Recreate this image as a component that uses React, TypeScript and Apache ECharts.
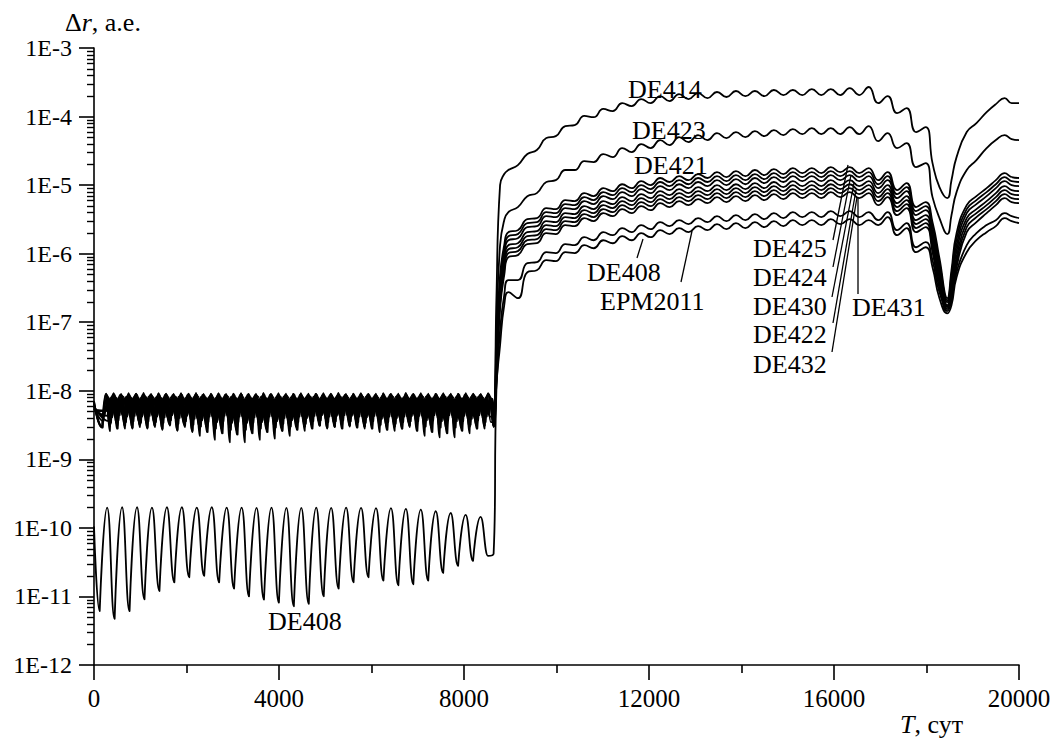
import React, { useEffect, useRef } from "react";
import * as echarts from "echarts";

// ---------- axis ticks ----------
const xTicks = [0, 4000, 8000, 12000, 16000, 20000];
const yMin = 1e-12;
const yMax = 1e-3;

// ---------- DE408, lower curve before the jump ----------
const de408LowStart = 1.05e-10;
const de408LowTroughT = [123, 446, 769, 1092, 1415, 1738, 2060, 2383, 2706, 3029,
  3352, 3675, 3998, 4321, 4644, 4967, 5290, 5612, 5935, 6258,
  6581, 6904, 7227, 7550, 7873, 8196, 8519];
const de408LowTroughV = [6.1e-12, 4.7e-12, 6.1e-12, 9.1e-12, 1.2e-11, 1.6e-11, 1.9e-11, 2.0e-11, 1.6e-11, 1.3e-11,
  1.0e-11, 9.0e-12, 8.1e-12, 7.2e-12, 7.8e-12, 1.0e-11, 1.3e-11, 1.6e-11, 1.9e-11, 1.7e-11,
  1.45e-11, 1.5e-11, 1.7e-11, 2.2e-11, 2.8e-11, 3.3e-11, 3.9e-11];
const de408LowPeakT = [284, 607, 930, 1253, 1576, 1899, 2222, 2545, 2868, 3191,
  3514, 3837, 4160, 4482, 4805, 5128, 5451, 5774, 6097, 6420,
  6743, 7066, 7389, 7712, 8035, 8358];
const de408LowPeakV = [1.98e-10, 2.0e-10, 2.0e-10, 1.98e-10, 2.0e-10, 2.0e-10, 1.98e-10, 2.0e-10, 1.98e-10, 1.98e-10,
  1.96e-10, 1.98e-10, 1.96e-10, 1.96e-10, 1.98e-10, 1.96e-10, 1.98e-10, 1.96e-10, 1.94e-10, 1.94e-10,
  1.9e-10, 1.85e-10, 1.75e-10, 1.65e-10, 1.55e-10, 1.45e-10];

// ---------- the 1E-8 band before the jump (values in units of 1e-9) ----------
const BAND_UNIT = 1e-9;
const bandTroughT = [181, 343, 505, 667, 829, 991, 1153, 1315, 1477, 1639,
  1801, 1963, 2125, 2287, 2449, 2611, 2773, 2935, 3097, 3259,
  3421, 3583, 3745, 3907, 4069, 4231, 4393, 4555, 4717, 4879,
  5041, 5203, 5365, 5527, 5689, 5851, 6013, 6175, 6337, 6499,
  6661, 6823, 6985, 7147, 7309, 7471, 7633, 7795, 7957, 8119,
  8281, 8443];
const bandPeakT = [262, 424, 586, 748, 910, 1072, 1234, 1396, 1558, 1720,
  1882, 2044, 2206, 2368, 2530, 2692, 2854, 3016, 3178, 3340,
  3502, 3664, 3826, 3988, 4150, 4312, 4474, 4636, 4798, 4960,
  5122, 5284, 5446, 5608, 5770, 5932, 6094, 6256, 6418, 6580,
  6742, 6904, 7066, 7228, 7390, 7552, 7714, 7876, 8038, 8200,
  8362, 8524];
const bandStartA = 6.5, bandStartB = 6.0, bandStartC = 5.5, bandStartD = 5.2, bandStartE = 7.0;
const bandTroughA = [2.96, 2.59, 3.1, 2.8, 2.8, 2.96, 2.8, 2.96, 2.7, 3.1,
  2.6, 2.96, 2.5, 2.2, 2.8, 1.93, 2.96, 1.77, 2.96, 1.77,
  2.8, 1.93, 2.8, 2.0, 2.6, 2.2, 2.8, 2.6, 2.96, 3.1,
  2.8, 2.96, 3.1, 3.0, 2.96, 2.8, 2.96, 2.5, 2.8, 2.6,
  2.8, 2.96, 2.96, 2.2, 3.1, 2.1, 3.1, 2.1, 2.96, 2.4,
  3.1, 2.8];
const bandTroughB = [3.6, 3.4, 3.7, 3.5, 3.6, 3.4, 3.6, 3.5, 3.4, 3.7,
  3.3, 3.6, 3.2, 3.0, 3.5, 2.8, 3.6, 2.7, 3.5, 2.7,
  3.4, 2.8, 3.5, 2.9, 3.3, 3.0, 3.5, 3.3, 3.6, 3.7,
  3.5, 3.6, 3.7, 3.6, 3.5, 3.4, 3.6, 3.2, 3.5, 3.3,
  3.5, 3.6, 3.6, 3.0, 3.7, 2.9, 3.7, 2.9, 3.6, 3.2,
  3.7, 3.5];
const bandTroughC = [4.3, 4.1, 4.4, 4.2, 4.3, 4.2, 4.3, 4.2, 4.1, 4.4,
  4.0, 4.3, 3.9, 3.7, 4.2, 3.5, 4.3, 3.4, 4.2, 3.4,
  4.1, 3.5, 4.2, 3.6, 4.0, 3.7, 4.2, 4.0, 4.3, 4.4,
  4.2, 4.3, 4.4, 4.3, 4.2, 4.1, 4.3, 3.9, 4.2, 4.0,
  4.2, 4.3, 4.3, 3.7, 4.4, 3.6, 4.4, 3.6, 4.3, 3.9,
  4.4, 4.2];
const bandTroughD = [5.1, 4.9, 5.2, 5.0, 5.1, 5.0, 5.1, 5.0, 4.9, 5.2,
  4.8, 5.1, 4.7, 4.5, 5.0, 4.3, 5.1, 4.2, 5.0, 4.2,
  4.9, 4.3, 5.0, 4.4, 4.8, 4.5, 5.0, 4.8, 5.1, 5.2,
  5.0, 5.1, 5.2, 5.1, 5.0, 4.9, 5.1, 4.7, 5.0, 4.8,
  5.0, 5.1, 5.1, 4.5, 5.2, 4.4, 5.2, 4.4, 5.1, 4.7,
  5.2, 5.0];
const bandTroughE = [2.9, 3.2, 2.8, 3.1, 2.9, 3.2, 2.9, 3.1, 2.8, 3.2,
  2.7, 3.1, 2.6, 2.9, 2.5, 2.7, 2.4, 2.9, 2.3, 2.9,
  2.4, 2.8, 2.5, 2.9, 2.6, 2.8, 2.7, 3.0, 2.8, 3.1,
  2.9, 3.0, 2.8, 3.1, 2.9, 3.0, 2.8, 3.1, 2.7, 3.0,
  2.8, 3.1, 2.6, 3.0, 2.5, 3.0, 2.4, 3.1, 2.6, 3.0,
  2.8, 3.1];
const bandPeakA = [9.1, 9.2, 9.0, 9.2, 9.1, 9.3, 9.0, 9.2, 9.1, 9.0,
  9.2, 9.1, 9.3, 9.0, 9.1, 9.2, 9.0, 9.1, 9.2, 9.0,
  9.1, 9.3, 9.0, 9.2, 9.1, 9.0, 9.2, 9.1, 9.0, 9.2,
  9.1, 9.3, 9.0, 9.1, 9.2, 9.0, 9.1, 9.2, 9.0, 9.1,
  9.3, 9.0, 9.2, 9.1, 9.0, 9.2, 9.1, 9.0, 9.2, 9.1,
  9.0, 9.2];
const bandPeakB = [8.6, 8.7, 8.5, 8.6, 8.7, 8.6, 8.5, 8.7, 8.6, 8.5,
  8.7, 8.6, 8.7, 8.5, 8.6, 8.7, 8.5, 8.6, 8.7, 8.6,
  8.5, 8.7, 8.6, 8.6, 8.5, 8.7, 8.6, 8.5, 8.7, 8.6,
  8.6, 8.7, 8.5, 8.6, 8.7, 8.6, 8.5, 8.7, 8.6, 8.5,
  8.7, 8.6, 8.6, 8.5, 8.7, 8.6, 8.5, 8.7, 8.6, 8.6,
  8.5, 8.7];
const bandPeakC = [8.1, 8.0, 8.2, 8.1, 8.0, 8.2, 8.1, 8.0, 8.1, 8.2,
  8.0, 8.1, 8.2, 8.1, 8.0, 8.1, 8.2, 8.0, 8.1, 8.1,
  8.2, 8.0, 8.1, 8.2, 8.1, 8.0, 8.1, 8.2, 8.0, 8.1,
  8.1, 8.2, 8.0, 8.1, 8.2, 8.1, 8.0, 8.1, 8.2, 8.0,
  8.1, 8.1, 8.2, 8.0, 8.1, 8.2, 8.1, 8.0, 8.1, 8.2,
  8.0, 8.1];
const bandPeakD = [7.5, 7.4, 7.6, 7.5, 7.4, 7.6, 7.5, 7.5, 7.4, 7.6,
  7.5, 7.4, 7.6, 7.5, 7.5, 7.4, 7.6, 7.5, 7.4, 7.6,
  7.5, 7.5, 7.4, 7.6, 7.5, 7.4, 7.6, 7.5, 7.5, 7.4,
  7.6, 7.5, 7.4, 7.6, 7.5, 7.5, 7.4, 7.6, 7.5, 7.4,
  7.6, 7.5, 7.5, 7.4, 7.6, 7.5, 7.4, 7.6, 7.5, 7.5,
  7.4, 7.6];
const bandPeakE = [8.9, 9.0, 8.8, 8.9, 9.0, 8.9, 8.8, 9.0, 8.9, 8.8,
  9.0, 8.9, 9.0, 8.8, 8.9, 9.0, 8.8, 8.9, 9.0, 8.9,
  8.8, 9.0, 8.9, 8.9, 8.8, 9.0, 8.9, 8.8, 9.0, 8.9,
  8.9, 9.0, 8.8, 8.9, 9.0, 8.9, 8.8, 9.0, 8.9, 8.8,
  9.0, 8.9, 8.9, 8.8, 9.0, 8.9, 8.8, 9.0, 8.9, 8.9,
  8.8, 9.0];

// ---------- after the jump: shared time grid (days) ----------
const tPost = [8640, 8700, 8780, 8870,
  8960, 9165, 9370, 9575, 9780, 9985, 10190, 10395, 10600, 10805,
  11010, 11215, 11420, 11625, 11830, 12035, 12240, 12445, 12650, 12855,
  13060, 13265, 13470, 13675, 13880, 14085, 14290, 14495, 14700, 14905,
  15110, 15315, 15520, 15725, 15930, 16135, 16340, 16545, 16750, 16955,
  17160, 17365, 17570, 17775, 17980,
  18130, 18280, 18450, 18540, 18650, 18870, 19080, 19300, 19500, 19690, 19840, 20000];

const postDE414 = [3.0e-9, 2.1e-7, 1.0e-5, 1.45e-5,
  1.66e-5, 1.96e-5, 2.84e-5, 3.25e-5, 4.86e-5, 5.19e-5, 7.26e-5, 7.51e-5, 1.02e-4, 9.8e-5,
  1.29e-4, 1.2e-4, 1.57e-4, 1.42e-4, 1.8e-4, 1.57e-4, 1.99e-4, 1.68e-4, 2.13e-4, 1.8e-4,
  2.2e-4, 1.86e-4, 2.28e-4, 1.93e-4, 2.36e-4, 1.99e-4, 2.36e-4, 1.99e-4, 2.44e-4, 2.06e-4,
  2.44e-4, 2.06e-4, 2.52e-4, 2.06e-4, 2.52e-4, 2.06e-4, 2.6e-4, 2.06e-4, 2.7e-4, 1.57e-4,
  1.99e-4, 1.12e-4, 1.33e-4, 5.94e-5, 7.02e-5,
  2.09e-5, 9.36e-6, 6.45e-6, 1.18e-5, 2.56e-5, 5.94e-5, 8.03e-5, 1.16e-4, 1.52e-4, 1.86e-4, 1.57e-4, 1.57e-4];
const postDE423 = [3.5e-9, 7.6e-8, 1.33e-6, 3.08e-6,
  4.04e-6, 4.78e-6, 6.9e-6, 7.64e-6, 1.11e-5, 1.18e-5, 1.66e-5, 1.66e-5, 2.24e-5, 2.17e-5,
  2.84e-5, 2.56e-5, 3.47e-5, 3.03e-5, 3.97e-5, 3.47e-5, 4.54e-5, 3.83e-5, 5.02e-5, 4.25e-5,
  5.37e-5, 4.54e-5, 5.74e-5, 4.86e-5, 5.94e-5, 5.02e-5, 6.14e-5, 5.19e-5, 6.35e-5, 5.37e-5,
  6.57e-5, 5.55e-5, 6.79e-5, 5.55e-5, 6.79e-5, 5.55e-5, 7.02e-5, 5.55e-5, 7.26e-5, 4.38e-5,
  5.74e-5, 3.47e-5, 4.1e-5, 1.83e-5, 2.09e-5,
  6.68e-6, 3.3e-6, 1.93e-6, 3.64e-6, 7.9e-6, 1.66e-5, 2.32e-5, 3.47e-5, 4.54e-5, 5.37e-5, 4.69e-5, 4.54e-5];
const postDE421 = [4.2e-9, 3.9e-8, 4.86e-7, 1.33e-6,
  2.06e-6, 2.2e-6, 3.19e-6, 3.3e-6, 4.62e-6, 4.46e-6, 6.04e-6, 5.84e-6, 7.64e-6, 6.9e-6,
  9.04e-6, 8.17e-6, 1.03e-5, 9.04e-6, 1.14e-5, 1.0e-5, 1.27e-5, 1.11e-5, 1.35e-5, 1.18e-5,
  1.45e-5, 1.27e-5, 1.55e-5, 1.31e-5, 1.6e-5, 1.35e-5, 1.66e-5, 1.4e-5, 1.71e-5, 1.45e-5,
  1.77e-5, 1.5e-5, 1.77e-5, 1.5e-5, 1.83e-5, 1.55e-5, 1.83e-5, 1.5e-5, 1.77e-5, 1.18e-5,
  1.55e-5, 8.45e-6, 1.07e-5, 4.78e-6, 5.65e-6,
  2.88e-6, 8.59e-7, 2.24e-7, 5.74e-7, 1.99e-6, 5.1e-6, 6.9e-6, 9.04e-6, 1.18e-5, 1.5e-5, 1.31e-5, 1.27e-5];
const postDE425 = [5.0e-9, 3.3e-8, 3.83e-7, 1.12e-6,
  1.8e-6, 1.93e-6, 2.79e-6, 2.88e-6, 4.04e-6, 3.9e-6, 5.28e-6, 5.1e-6, 6.68e-6, 6.04e-6,
  7.9e-6, 7.14e-6, 9.04e-6, 7.9e-6, 1.0e-5, 8.74e-6, 1.11e-5, 9.67e-6, 1.18e-5, 1.03e-5,
  1.27e-5, 1.11e-5, 1.35e-5, 1.14e-5, 1.4e-5, 1.18e-5, 1.45e-5, 1.22e-5, 1.5e-5, 1.27e-5,
  1.55e-5, 1.31e-5, 1.55e-5, 1.31e-5, 1.6e-5, 1.35e-5, 1.6e-5, 1.31e-5, 1.55e-5, 1.03e-5,
  1.35e-5, 7.38e-6, 9.35e-6, 4.17e-6, 4.94e-6,
  2.44e-6, 7.26e-7, 2.09e-7, 4.86e-7, 1.63e-6, 4.46e-6, 6.04e-6, 7.9e-6, 1.03e-5, 1.31e-5, 1.14e-5, 1.11e-5];
const postDE424 = [3.0e-9, 2.79e-8, 3.13e-7, 9.51e-7,
  1.57e-6, 1.68e-6, 2.44e-6, 2.52e-6, 3.53e-6, 3.41e-6, 4.62e-6, 4.46e-6, 5.84e-6, 5.28e-6,
  6.9e-6, 6.24e-6, 7.9e-6, 6.9e-6, 8.74e-6, 7.64e-6, 9.67e-6, 8.45e-6, 1.03e-5, 9.04e-6,
  1.11e-5, 9.67e-6, 1.18e-5, 1.0e-5, 1.22e-5, 1.03e-5, 1.27e-5, 1.07e-5, 1.31e-5, 1.11e-5,
  1.35e-5, 1.14e-5, 1.35e-5, 1.14e-5, 1.4e-5, 1.18e-5, 1.4e-5, 1.14e-5, 1.35e-5, 9.04e-6,
  1.18e-5, 6.46e-6, 8.17e-6, 3.65e-6, 4.31e-6,
  2.06e-6, 6.14e-7, 1.96e-7, 4.1e-7, 1.33e-6, 3.9e-6, 5.28e-6, 6.9e-6, 9.04e-6, 1.14e-5, 1.0e-5, 9.67e-6];
const postDE430 = [3.0e-9, 2.36e-8, 2.65e-7, 8.03e-7,
  1.33e-6, 1.42e-6, 2.06e-6, 2.13e-6, 2.98e-6, 2.88e-6, 3.9e-6, 3.77e-6, 4.94e-6, 4.46e-6,
  5.84e-6, 5.28e-6, 6.68e-6, 5.84e-6, 7.38e-6, 6.46e-6, 8.17e-6, 7.14e-6, 8.74e-6, 7.64e-6,
  9.35e-6, 8.17e-6, 1.0e-5, 8.45e-6, 1.03e-5, 8.74e-6, 1.07e-5, 9.04e-6, 1.11e-5, 9.35e-6,
  1.14e-5, 9.67e-6, 1.14e-5, 9.67e-6, 1.18e-5, 1.0e-5, 1.18e-5, 9.67e-6, 1.14e-5, 7.64e-6,
  1.0e-5, 5.46e-6, 6.9e-6, 3.08e-6, 3.65e-6,
  1.74e-6, 5.19e-7, 1.77e-7, 3.47e-7, 1.09e-6, 3.3e-6, 4.46e-6, 5.84e-6, 7.64e-6, 9.67e-6, 8.45e-6, 8.17e-6];
const postDE422 = [3.5e-9, 1.99e-8, 2.24e-7, 6.79e-7,
  1.16e-6, 1.24e-6, 1.8e-6, 1.86e-6, 2.61e-6, 2.52e-6, 3.41e-6, 3.3e-6, 4.31e-6, 3.9e-6,
  5.1e-6, 4.62e-6, 5.84e-6, 5.1e-6, 6.46e-6, 5.65e-6, 7.14e-6, 6.24e-6, 7.64e-6, 6.68e-6,
  8.17e-6, 7.14e-6, 8.74e-6, 7.38e-6, 9.04e-6, 7.64e-6, 9.35e-6, 7.9e-6, 9.67e-6, 8.17e-6,
  1.0e-5, 8.45e-6, 1.0e-5, 8.45e-6, 1.03e-5, 8.74e-6, 1.03e-5, 8.45e-6, 1.0e-5, 6.68e-6,
  8.74e-6, 4.78e-6, 6.04e-6, 2.7e-6, 3.19e-6,
  1.47e-6, 4.38e-7, 1.66e-7, 2.93e-7, 8.89e-7, 2.88e-6, 3.9e-6, 5.1e-6, 6.68e-6, 8.45e-6, 7.38e-6, 7.14e-6];
const postDE432 = [4.2e-9, 1.68e-8, 1.89e-7, 5.74e-7,
  1.02e-6, 1.09e-6, 1.57e-6, 1.63e-6, 2.28e-6, 2.2e-6, 2.98e-6, 2.88e-6, 3.77e-6, 3.41e-6,
  4.46e-6, 4.04e-6, 5.1e-6, 4.46e-6, 5.65e-6, 4.94e-6, 6.24e-6, 5.46e-6, 6.68e-6, 5.84e-6,
  7.14e-6, 6.24e-6, 7.64e-6, 6.46e-6, 7.9e-6, 6.68e-6, 8.17e-6, 6.9e-6, 8.45e-6, 7.14e-6,
  8.74e-6, 7.38e-6, 8.74e-6, 7.38e-6, 9.04e-6, 7.64e-6, 9.04e-6, 7.38e-6, 8.74e-6, 5.84e-6,
  7.64e-6, 4.17e-6, 5.28e-6, 2.36e-6, 2.79e-6,
  1.24e-6, 3.71e-7, 1.55e-7, 2.48e-7, 7.51e-7, 2.44e-6, 3.41e-6, 4.46e-6, 5.84e-6, 7.38e-6, 6.46e-6, 6.24e-6];
const postDE431 = [5.0e-9, 1.42e-8, 1.6e-7, 4.86e-7,
  8.89e-7, 9.51e-7, 1.38e-6, 1.42e-6, 1.99e-6, 1.93e-6, 2.61e-6, 2.52e-6, 3.3e-6, 2.98e-6,
  3.9e-6, 3.53e-6, 4.46e-6, 3.9e-6, 4.94e-6, 4.31e-6, 5.46e-6, 4.78e-6, 5.84e-6, 5.1e-6,
  6.24e-6, 5.46e-6, 6.68e-6, 5.65e-6, 6.9e-6, 5.84e-6, 7.14e-6, 6.04e-6, 7.38e-6, 6.24e-6,
  7.64e-6, 6.46e-6, 7.64e-6, 6.46e-6, 7.9e-6, 6.68e-6, 7.9e-6, 6.46e-6, 7.64e-6, 5.1e-6,
  6.68e-6, 3.65e-6, 4.62e-6, 2.06e-6, 2.44e-6,
  1.05e-6, 3.13e-7, 1.45e-7, 2.09e-7, 6.35e-7, 2.06e-6, 2.88e-6, 3.9e-6, 5.1e-6, 6.46e-6, 5.65e-6, 5.46e-6];
const postEPM2011 = [3.0e-9, 1.2e-8, 7.64e-8, 2.48e-7,
  4.1e-7, 4.1e-7, 7.26e-7, 7.51e-7, 1.05e-6, 1.02e-6, 1.38e-6, 1.33e-6, 1.74e-6, 1.57e-6,
  2.06e-6, 1.86e-6, 2.36e-6, 2.06e-6, 2.61e-6, 2.28e-6, 2.88e-6, 2.52e-6, 3.08e-6, 2.7e-6,
  3.3e-6, 2.88e-6, 3.53e-6, 2.98e-6, 3.65e-6, 3.08e-6, 3.77e-6, 3.19e-6, 3.9e-6, 3.3e-6,
  4.04e-6, 3.41e-6, 4.04e-6, 3.41e-6, 4.17e-6, 3.53e-6, 4.17e-6, 3.41e-6, 4.04e-6, 3.08e-6,
  4.04e-6, 2.2e-6, 2.79e-6, 1.24e-6, 1.47e-6,
  8.03e-7, 2.74e-7, 1.71e-7, 2.24e-7, 5.37e-7, 1.33e-6, 1.99e-6, 2.61e-6, 3.08e-6, 3.9e-6, 3.53e-6, 3.3e-6];
const postDE408 = [4.2e-11, 1.02e-8, 4.62e-8, 1.77e-7,
  2.74e-7, 2.24e-7, 5.37e-7, 5.74e-7, 8.03e-7, 7.77e-7, 1.05e-6, 1.02e-6, 1.33e-6, 1.2e-6,
  1.57e-6, 1.42e-6, 1.8e-6, 1.57e-6, 1.99e-6, 1.74e-6, 2.2e-6, 1.93e-6, 2.36e-6, 2.06e-6,
  2.52e-6, 2.2e-6, 2.7e-6, 2.28e-6, 2.79e-6, 2.36e-6, 2.88e-6, 2.44e-6, 2.98e-6, 2.52e-6,
  3.08e-6, 2.61e-6, 3.08e-6, 2.61e-6, 3.19e-6, 2.7e-6, 3.19e-6, 2.61e-6, 3.08e-6, 2.61e-6,
  3.41e-6, 1.86e-6, 2.36e-6, 1.05e-6, 1.24e-6,
  6.35e-7, 2.24e-7, 1.35e-7, 1.77e-7, 4.54e-7, 1.05e-6, 1.57e-6, 2.06e-6, 2.52e-6, 3.3e-6, 2.98e-6, 2.79e-6];

// ---------- series table built from the arrays above ----------
type Band = { start: number; troughs: number[]; peaks: number[] };
const bandA: Band = { start: bandStartA, troughs: bandTroughA, peaks: bandPeakA };
const bandB: Band = { start: bandStartB, troughs: bandTroughB, peaks: bandPeakB };
const bandC: Band = { start: bandStartC, troughs: bandTroughC, peaks: bandPeakC };
const bandD: Band = { start: bandStartD, troughs: bandTroughD, peaks: bandPeakD };
const bandE: Band = { start: bandStartE, troughs: bandTroughE, peaks: bandPeakE };

// phase (days) of each ephemeris' 162-day oscillation inside the band
const seriesTable: { name: string; band: Band | null; phase: number; post: number[] }[] = [
  { name: "DE414", band: bandA, phase: 0, post: postDE414 },
  { name: "DE423", band: bandB, phase: 25, post: postDE423 },
  { name: "DE421", band: bandC, phase: 50, post: postDE421 },
  { name: "DE425", band: bandD, phase: 70, post: postDE425 },
  { name: "DE424", band: bandE, phase: -8, post: postDE424 },
  { name: "DE430", band: bandE, phase: 8, post: postDE430 },
  { name: "DE422", band: bandB, phase: 137, post: postDE422 },
  { name: "DE432", band: bandC, phase: 112, post: postDE432 },
  { name: "DE431", band: bandD, phase: 92, post: postDE431 },
  { name: "EPM2011", band: bandD, phase: 81, post: postEPM2011 },
  { name: "DE408", band: null, phase: 0, post: postDE408 },
];

// a sharp cusp at each minimum: the minimum is entered twice, one day apart
function buildData(row: { band: Band | null; phase: number; post: number[] }) {
  const d: number[][] = [];
  const limit = tPost[0] - 5;
  const add = (t: number, v: number) => {
    if (t < limit) d.push([t, v]);
  };
  if (row.band) {
    const b = row.band;
    d.push([0, b.start * BAND_UNIT]);
    for (let i = 0; i < bandTroughT.length; i++) {
      add(bandTroughT[i] + row.phase, b.troughs[i] * BAND_UNIT);
      add(bandTroughT[i] + row.phase + 1, b.troughs[i] * BAND_UNIT);
      add(bandPeakT[i] + row.phase, b.peaks[i] * BAND_UNIT);
    }
  } else {
    d.push([0, de408LowStart]);
    for (let i = 0; i < de408LowTroughT.length; i++) {
      add(de408LowTroughT[i], de408LowTroughV[i]);
      add(de408LowTroughT[i] + 1, de408LowTroughV[i]);
      if (i < de408LowPeakT.length) add(de408LowPeakT[i], de408LowPeakV[i]);
    }
  }
  for (let k = 0; k < tPost.length; k++) d.push([tPost[k], row.post[k]]);
  return d;
}

// minor ticks of the log axis: 2..9 in every decade
const minorTickValues: number[] = [];
for (let e = -12; e < -3; e++) {
  for (let m = 2; m <= 9; m++) minorTickValues.push(m * Math.pow(10, e));
}

const FONT = "Liberation Serif, Times New Roman, serif";

// curve labels (annotations) and their leader lines, in pixels
const curveLabels = [
  { text: "DE414", x: 628, y: 89 },
  { text: "DE423", x: 632, y: 130 },
  { text: "DE421", x: 634, y: 165 },
  { text: "DE408", x: 587, y: 272 },
  { text: "EPM2011", x: 600, y: 301 },
  { text: "DE425", x: 753, y: 248 },
  { text: "DE424", x: 753, y: 277 },
  { text: "DE430", x: 753, y: 306 },
  { text: "DE422", x: 753, y: 334 },
  { text: "DE432", x: 753, y: 364 },
  { text: "DE431", x: 852, y: 307 },
  { text: "DE408", x: 268, y: 621 },
];
const leaders = [
  [637, 258, 643, 239],
  [681, 282, 692, 231],
  [833, 240, 848, 165],
  [833, 267, 851, 175],
  [832, 297, 854, 183],
  [833, 323, 856, 190],
  [832, 352, 857, 197],
  [858, 294, 858, 198],
];

export default function App() {
  const ref = useRef<HTMLDivElement>(null);
  useEffect(() => {
    if (!ref.current) return;
    const chart = echarts.init(ref.current, null, { renderer: "svg" });
    const lineSeries = seriesTable.map((row) => ({
      name: row.name,
      type: "line",
      data: buildData(row),
      symbol: "none",
      showSymbol: false,
      smooth: 0.5,
      silent: true,
      lineStyle: { color: "#000", width: 1.8 },
      z: 3,
    }));
    const richStyles = {
      n: { fontFamily: FONT, fontSize: 26, fill: "#000", color: "#000" },
      i: { fontFamily: FONT, fontSize: 26, fontStyle: "italic", fill: "#000", color: "#000" },
    };
    const option: any = {
      animation: false,
      backgroundColor: "#fff",
      textStyle: { fontFamily: FONT },
      grid: { left: 94, right: 37, top: 48, bottom: 75, containLabel: false, outerBoundsMode: "none" },
      xAxis: {
        type: "value",
        min: 0,
        max: 20000,
        interval: 4000,
        axisLine: { lineStyle: { color: "#000", width: 1.6 } },
        axisTick: { show: true, length: 15, lineStyle: { color: "#000", width: 1.6 } },
        minorTick: { show: true, splitNumber: 2, length: 8, lineStyle: { color: "#000", width: 1.6 } },
        splitLine: { show: false },
        minorSplitLine: { show: false },
        axisLabel: {
          color: "#000",
          fontFamily: FONT,
          fontSize: 25,
          margin: 21,
          formatter: (v: number) => (xTicks.includes(v) ? String(v) : ""),
        },
      },
      yAxis: {
        type: "log",
        logBase: 10,
        min: yMin,
        max: yMax,
        axisLine: { show: true, lineStyle: { color: "#000", width: 1.6 } },
        axisTick: { show: true, length: 15, lineStyle: { color: "#000", width: 1.6 } },
        splitLine: { show: false },
        axisLabel: {
          color: "#000",
          fontFamily: FONT,
          fontSize: 24,
          margin: 22,
          formatter: (v: number) => "1E" + Math.round(Math.log10(v)),
        },
      },
      series: [
        ...lineSeries,
        {
          type: "custom",
          silent: true,
          clip: false,
          z: 4,
          data: minorTickValues.map((v) => [0, v]),
          renderItem: (_p: any, api: any) => {
            const pt = api.coord([0, api.value(1)]);
            return {
              type: "line",
              shape: { x1: pt[0] - 7, y1: Math.round(pt[1]) + 0.5, x2: pt[0], y2: Math.round(pt[1]) + 0.5 },
              style: { stroke: "#000", lineWidth: 1.4 },
            };
          },
        },
      ],
      graphic: [
        {
          type: "text",
          x: 65,
          y: 22,
          style: {
            text: "{n|Δ}{i|r}{n|, а.е.}",
            rich: richStyles,
            fontFamily: FONT,
            fontSize: 26,
            fill: "#000",
            verticalAlign: "middle",
            textVerticalAlign: "middle",
          },
        },
        {
          type: "text",
          x: 900,
          y: 724,
          style: {
            text: "{i|T}{n|, сут}",
            rich: richStyles,
            fontFamily: FONT,
            fontSize: 26,
            fill: "#000",
            verticalAlign: "middle",
            textVerticalAlign: "middle",
          },
        },
        ...curveLabels.map((l) => ({
          type: "text",
          x: l.x,
          y: l.y,
          z: 10,
          style: {
            text: l.text,
            font: "26px Liberation Serif, Times New Roman, serif",
            fontFamily: FONT,
            fontSize: 26,
            fill: "#000",
            verticalAlign: "middle",
            textVerticalAlign: "middle",
          },
        })),
        ...leaders.map((s) => ({
          type: "line",
          z: 10,
          shape: { x1: s[0], y1: s[1], x2: s[2], y2: s[3] },
          style: { stroke: "#000", lineWidth: 1.3 },
        })),
      ],
    };
    chart.setOption(option);
    return () => chart.dispose();
  }, []);
  return (
    <div
      ref={ref}
      style={{ position: "fixed", left: 0, top: 0, width: 1056, height: 740, background: "#fff" }}
    />
  );
}
